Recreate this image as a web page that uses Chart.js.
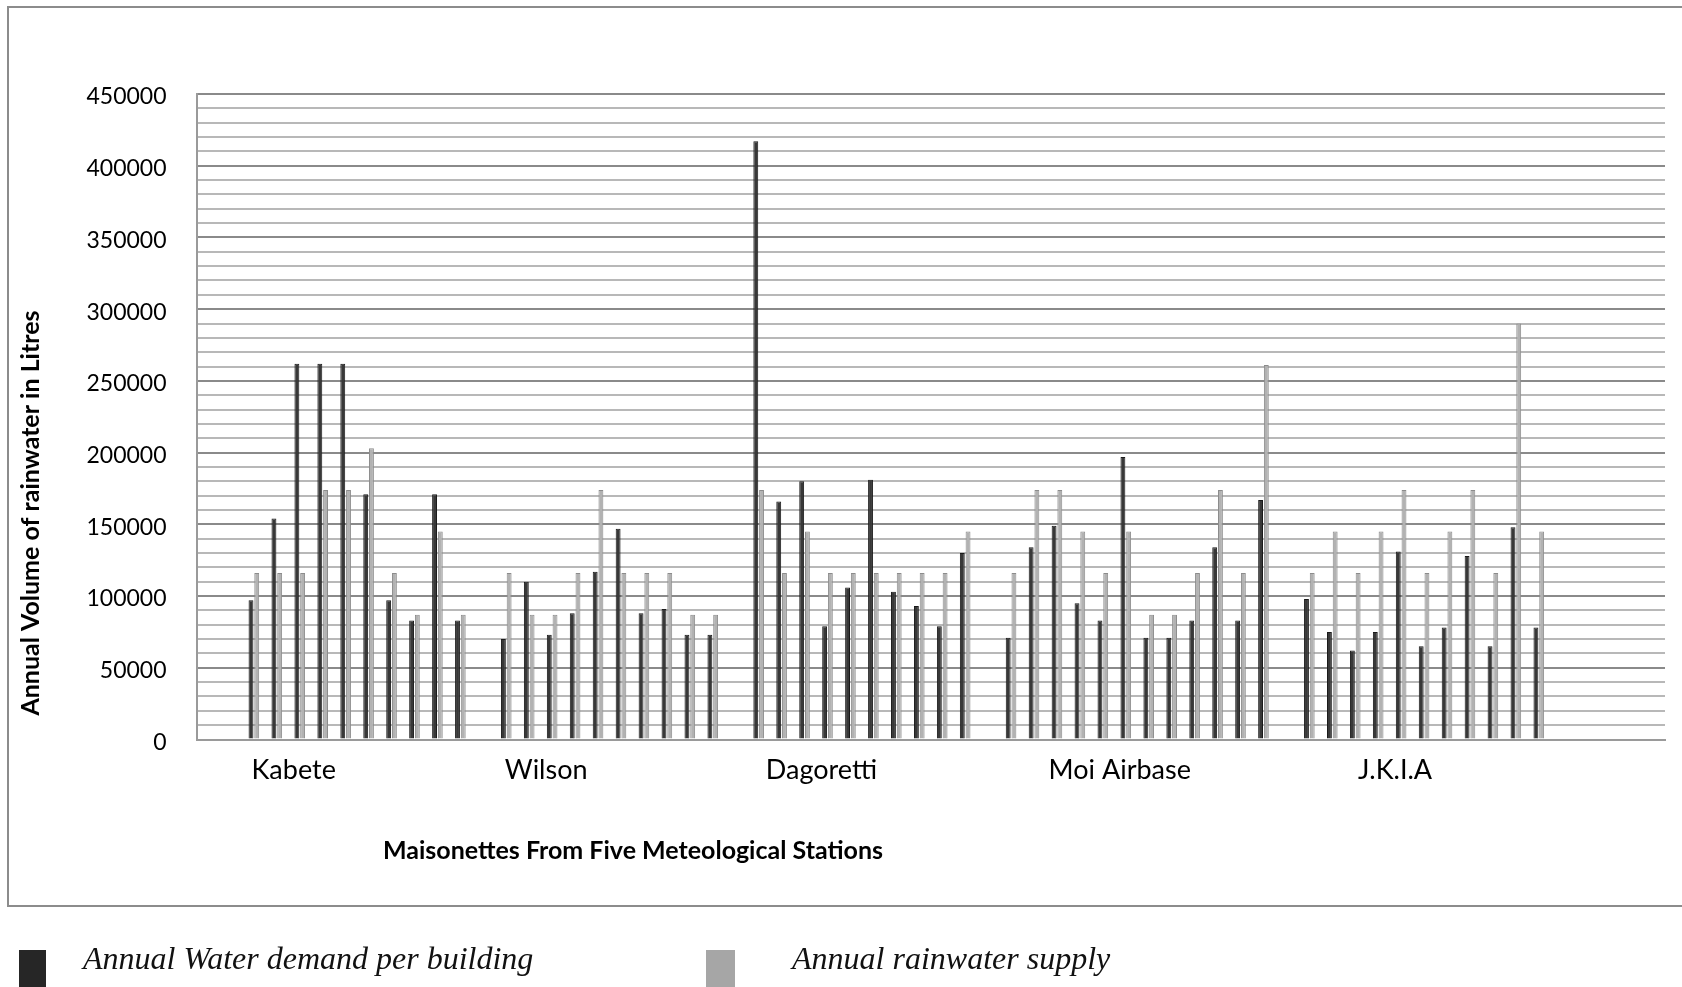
<!DOCTYPE html>
<html>
<head>
<meta charset="utf-8">
<script src="https://cdn.jsdelivr.net/npm/chart.js@4.4.1/dist/chart.umd.min.js"></script>
<style>
  body { margin: 0; background: #fff; width: 1682px; height: 987px; overflow: hidden; position: relative; }
  #frame { position: absolute; left: 7px; top: 6px; width: 1700px; height: 897px;
           border: 2px solid #8c8c8c; border-right: none; }
  #c { position: absolute; left: 0; top: 0; }
  .key { position: absolute; top: 950px; width: 27px; height: 37px; }
  .keytext { position: absolute; top: 942px; font: italic 32px "Liberation Serif", "DejaVu Serif", serif;
             line-height: 32px; color: #111; white-space: nowrap; }
</style>
</head>
<body>
<div id="frame"></div>
<canvas id="c" width="1682" height="987"></canvas>
<div class="key" style="left:19px; background:#262626;"></div>
<div class="keytext" style="left:83px;" id="lab1"></div>
<div class="key" style="left:706px; width:29px; background:#a6a6a6;"></div>
<div class="keytext" style="left:792px;" id="lab2"></div>
<script>
// stations and buildings (litres per year)
const stations = ['Kabete', 'Wilson', 'Dagoretti', 'Moi Airbase', 'J.K.I.A'];
const seriesNames = ['Annual Water demand per building', 'Annual rainwater supply'];
const yTitle = 'Annual Volume of rainwater in Litres';
const xTitle = 'Maisonettes From Five Meteological Stations';

const kabeteDemand = [97000, 154000, 262000, 262000, 262000, 171000, 97000, 83000, 171000, 83000];
const kabeteSupply = [116000, 116000, 116000, 174000, 174000, 203000, 116000, 87000, 145000, 87000];
const wilsonDemand = [70000, 110000, 73000, 88000, 117000, 147000, 88000, 91000, 73000, 73000];
const wilsonSupply = [116000, 87000, 87000, 116000, 174000, 116000, 116000, 116000, 87000, 87000];
const dagorettiDemand = [417000, 166000, 180000, 79000, 106000, 181000, 103000, 93000, 79000, 130000];
const dagorettiSupply = [174000, 116000, 145000, 116000, 116000, 116000, 116000, 116000, 116000, 145000];
const moiDemand = [71000, 134000, 149000, 95000, 83000, 197000, 71000, 71000, 83000, 134000, 83000, 167000];
const moiSupply = [116000, 174000, 174000, 145000, 116000, 145000, 87000, 87000, 116000, 174000, 116000, 261000];
const jkiaDemand = [98000, 75000, 62000, 75000, 131000, 65000, 78000, 128000, 65000, 148000, 78000];
const jkiaSupply = [116000, 145000, 116000, 145000, 174000, 116000, 145000, 174000, 116000, 290000, 145000];

const yTicks = [0, 50000, 100000, 150000, 200000, 250000, 300000, 350000, 400000, 450000];

const demandByStation = [kabeteDemand, wilsonDemand, dagorettiDemand, moiDemand, jkiaDemand];
const supplyByStation = [kabeteSupply, wilsonSupply, dagorettiSupply, moiSupply, jkiaSupply];

// flatten into one category axis with an empty slot between stations
const labelSlot = [2, 2, 3, 5, 4];   // which building slot carries the station name
let labels = ['', ''];
let demand = [null, null];
let supply = [null, null];
stations.forEach((name, s) => {
  demandByStation[s].forEach((v, i) => {
    labels.push(i === labelSlot[s] ? name : '');
    demand.push(v);
    supply.push(supplyByStation[s][i]);
  });
  labels.push(''); demand.push(null); supply.push(null);
});
while (labels.length < 64) { labels.push(''); demand.push(null); supply.push(null); }

document.getElementById('lab1').textContent = seriesNames[0];
document.getElementById('lab2').textContent = seriesNames[1];

const axisTitles = {
  id: 'axisTitles',
  afterDraw(chart) {
    const ctx = chart.ctx;
    ctx.save();
    ctx.fillStyle = '#000';
    ctx.font = 'bold 25px Lato';
    ctx.textAlign = 'center';
    ctx.textBaseline = 'middle';
    ctx.fillText(xTitle, 633, 851);
    ctx.translate(31, 513);
    ctx.rotate(-Math.PI / 2);
    ctx.fillText(yTitle, 0, 0);
    ctx.restore();
  }
};

new Chart(document.getElementById('c'), {
  type: 'bar',
  data: {
    labels: labels,
    datasets: [{
      label: seriesNames[0],
      data: demand,
      backgroundColor: '#383838',
      borderColor: '#1a1a1a',
      borderWidth: 1
    }, {
      label: seriesNames[1],
      data: supply,
      backgroundColor: '#b2b2b2',
      borderColor: '#8c8c8c',
      borderWidth: 1
    }]
  },
  options: {
    responsive: false,
    animation: false,
    devicePixelRatio: 1,
    categoryPercentage: 0.5,
    barPercentage: 0.85,
    layout: { padding: { left: 0, top: 94, right: 17, bottom: 0 } },
    plugins: { legend: { display: false }, tooltip: { enabled: false } },
    scales: {
      x: {
        grid: { display: false },
        border: { display: true, color: '#9a9a9a', width: 2 },
        ticks: {
          autoSkip: false, maxRotation: 0, minRotation: 0,
          padding: 7, labelOffset: -6,
          color: '#000', font: { family: 'Lato', size: 27 }
        },
        afterFit(scale) { scale.height = 247.5; }
      },
      y: {
        min: 0, max: 450000,
        ticks: {
          stepSize: 10000, autoSkip: false, padding: 30, labelOffset: 3,
          color: '#000', font: { family: 'Lato', size: 23 },
          callback: v => yTicks.includes(v) ? String(v) : ''
        },
        grid: {
          drawTicks: false,
          lineWidth: 2,
          color: c => (c.tick && c.tick.value % 50000 === 0) ? '#8a8a8a' : '#b8b8b8'
        },
        border: { display: true, color: '#9a9a9a', width: 2 },
        afterFit(scale) { scale.width = 196.5; }
      }
    }
  },
  plugins: [axisTitles]
});
</script>
</body>
</html>
